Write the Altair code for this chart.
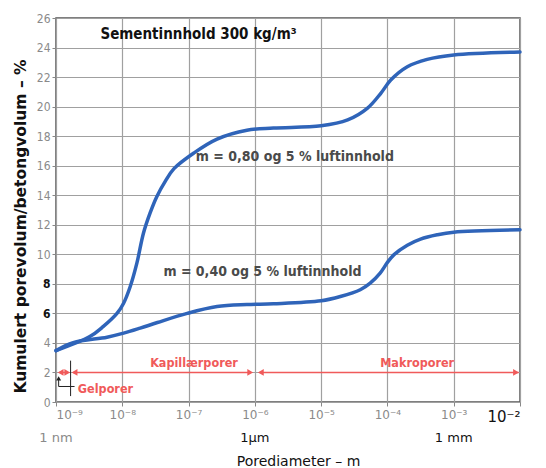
import altair as alt
import pandas as pd

# log10 of pore diameter (m) and cumulative pore volume (%)
upper_exp = [-9.0, -8.49, -8.29, -8.08, -7.98, -7.88, -7.78, -7.68, -7.58, -7.48, -7.35,
             -7.22, -6.92, -6.57, -6.12, -5.72, -5.0, -4.6, -4.3, -4.1, -3.95, -3.7,
             -3.4, -3.0, -2.0]
upper_val = [3.48, 4.43, 5.1, 6.0, 6.69, 7.82, 9.4, 11.44, 12.8, 13.9, 14.95,
             15.8, 16.86, 17.8, 18.4, 18.55, 18.7, 19.1, 19.9, 20.9, 21.8, 22.7,
             23.2, 23.5, 23.7]
lower_exp = [-9.0, -8.74, -8.23, -7.98, -7.73, -7.47, -7.02, -6.57, -6.12, -5.72, -5.0,
             -4.71, -4.41, -4.26, -4.11, -4.0, -3.9, -3.7, -3.5, -3.25, -3.0, -2.0]
lower_val = [3.48, 4.02, 4.39, 4.66, 5.0, 5.38, 6.0, 6.46, 6.6, 6.65, 6.85,
             7.14, 7.6, 8.05, 8.73, 9.45, 9.98, 10.62, 11.03, 11.32, 11.5, 11.66]

x_ticks = [-9, -8, -7, -6, -5, -4, -3, -2]
y_ticks = [0, 2, 4, 6, 8, 10, 12, 14, 16, 18, 20, 22, 24, 26]
unit_exp = [-9, -6, -3]
unit_labels = ["1 nm", "1µm", "1 mm"]
unit_colors = ["#8a8a8a", "#111111", "#111111"]

W, H = 464, 384
FONT = "DejaVu Sans Condensed"
FONT2 = "DejaVu Sans"
BLUE = "#2f64b9"
RED = "#f05a5a"

curves = pd.DataFrame({
    "exp": upper_exp + lower_exp,
    "val": upper_val + lower_val,
    "series": ["m=0,80"] * len(upper_exp) + ["m=0,40"] * len(lower_exp),
})

xs = alt.Scale(domain=[-9, -2], nice=False, zero=False)
ys = alt.Scale(domain=[0, 26], nice=False)

sup = "['⁰','¹','²','³','⁴','⁵','⁶','⁷','⁸','⁹']"
x_axis = alt.Axis(
    values=x_ticks,
    labelExpr="'10⁻' + " + sup + "[-datum.value]",
    title="Porediameter – m",
    titleFont=FONT2, titleFontSize=14, titleFontWeight="normal", titleColor="#111",
    titlePadding=30, titleX=242,
    labelFont=FONT2,
    labelFontSize={"condition": {"test": "datum.value == -2", "value": 15}, "value": 12},
    labelColor={"condition": {"test": "datum.value == -2", "value": "#111"}, "value": "#8a8a8a"},
    labelPadding=3, tickSize=4, tickColor="#888", labelOverlap=False,
    grid=True, gridColor="#a0a0a0", gridWidth=1.2, domain=False,
)
y_axis = alt.Axis(
    values=y_ticks,
    title="Kumulert porevolum/betongvolum – %",
    titleFont=FONT2, titleFontSize=15.5, titleFontWeight="bold", titleColor="#111",
    titlePadding=8, titleY=208,
    labelFont=FONT, labelFontSize=12, labelOverlap=False,
    labelColor={"condition": {"test": "datum.value == 6 || datum.value == 8", "value": "#111"},
                "value": "#8a8a8a"},
    labelFontWeight={"condition": {"test": "datum.value == 6 || datum.value == 8", "value": "bold"},
                     "value": "normal"},
    labelPadding=2, tickSize=4, tickColor="#888",
    grid=True, gridColor="#a0a0a0", gridWidth=1.2, domain=False,
)


def X(field):
    return alt.X(field, type="quantitative", scale=xs, axis=x_axis)


def Y(field):
    return alt.Y(field, type="quantitative", scale=ys, axis=y_axis)


lines = alt.Chart(curves).mark_line(
    interpolate="catmull-rom", strokeWidth=3.5, color=BLUE, strokeCap="round"
).encode(x=X("exp"), y=Y("val"), detail="series:N")

# red pore-class arrows at 2 %
seg = pd.DataFrame({"x1": [-8.95, -8.74, -5.93], "x2": [-8.82, -6.06, -2.02], "y": [2, 2, 2]})
seg_rules = alt.Chart(seg).mark_rule(color=RED, strokeWidth=1.5).encode(
    x=X("x1"), x2="x2:Q", y=Y("y"))

heads = pd.DataFrame({
    "x": [-8.93, -8.83, -8.72, -6.07, -5.91, -2.06],
    "y": [2] * 6,
    "shape": ["triangle-left", "triangle-right", "triangle-left",
              "triangle-right", "triangle-left", "triangle-right"],
})
head_marks = alt.Chart(heads).mark_point(filled=True, color=RED, size=45, opacity=1).encode(
    x=X("x"), y=Y("y"), shape=alt.Shape("shape:N", scale=None))

# black gel-pore marker
blk = pd.DataFrame({"x1": [-8.78, -8.96, -8.96], "x2": [-8.78, -8.96, -8.72],
                    "y1": [0.4, 1.05, 1.05], "y2": [2.8, 1.5, 1.05]})
blk_rules = alt.Chart(blk).mark_rule(color="#222", strokeWidth=1).encode(
    x=X("x1"), x2="x2:Q", y=Y("y1"), y2="y2:Q")
blk_head = alt.Chart(pd.DataFrame({"x": [-8.96], "y": [1.6]})).mark_point(
    filled=True, color="#222", shape="triangle-up", size=25, opacity=1).encode(
    x=X("x"), y=Y("y"))

# texts
notes = pd.DataFrame({
    "x": [-8.33, -6.89, -7.38],
    "y": [24.9, 16.6, 8.8],
    "t": ["Sementinnhold 300 kg/m³", "m = 0,80 og 5 % luftinnhold", "m = 0,40 og 5 % luftinnhold"],
    "c": ["#111111", "#4a4a4a", "#4a4a4a"],
    "s": [15, 14, 14],
})
note_marks = alt.Chart(notes).mark_text(
    font=FONT, fontWeight="bold", align="left", baseline="middle"
).encode(x=X("x"), y=Y("y"), text="t:N",
         color=alt.Color("c:N", scale=None), size=alt.Size("s:Q", scale=None))

red_notes = pd.DataFrame({
    "x": [-7.58, -4.11, -8.67],
    "y": [2.65, 2.65, 0.85],
    "t": ["Kapillærporer", "Makroporer", "Gelporer"],
})
red_marks = alt.Chart(red_notes).mark_text(
    font=FONT, fontSize=12.5, fontWeight="bold", color=RED, align="left", baseline="middle"
).encode(x=X("x"), y=Y("y"), text="t:N")

units = pd.DataFrame({"x": unit_exp, "t": unit_labels, "c": unit_colors})
unit_marks = alt.Chart(units).mark_text(
    font=FONT2, fontSize=13, baseline="middle"
).encode(x=X("x"), y=alt.value(H + 36), text="t:N",
         color=alt.Color("c:N", scale=None))

chart = alt.layer(
    lines, seg_rules, head_marks, blk_rules, blk_head, note_marks, red_marks, unit_marks
).properties(
    width=W, height=H, background="white",
    padding={"left": 5, "top": 4, "right": 5, "bottom": 5},
).configure_view(stroke="#555", strokeWidth=1.5)

chart.save("out.html", embed_options={"renderer": "svg", "actions": False})
